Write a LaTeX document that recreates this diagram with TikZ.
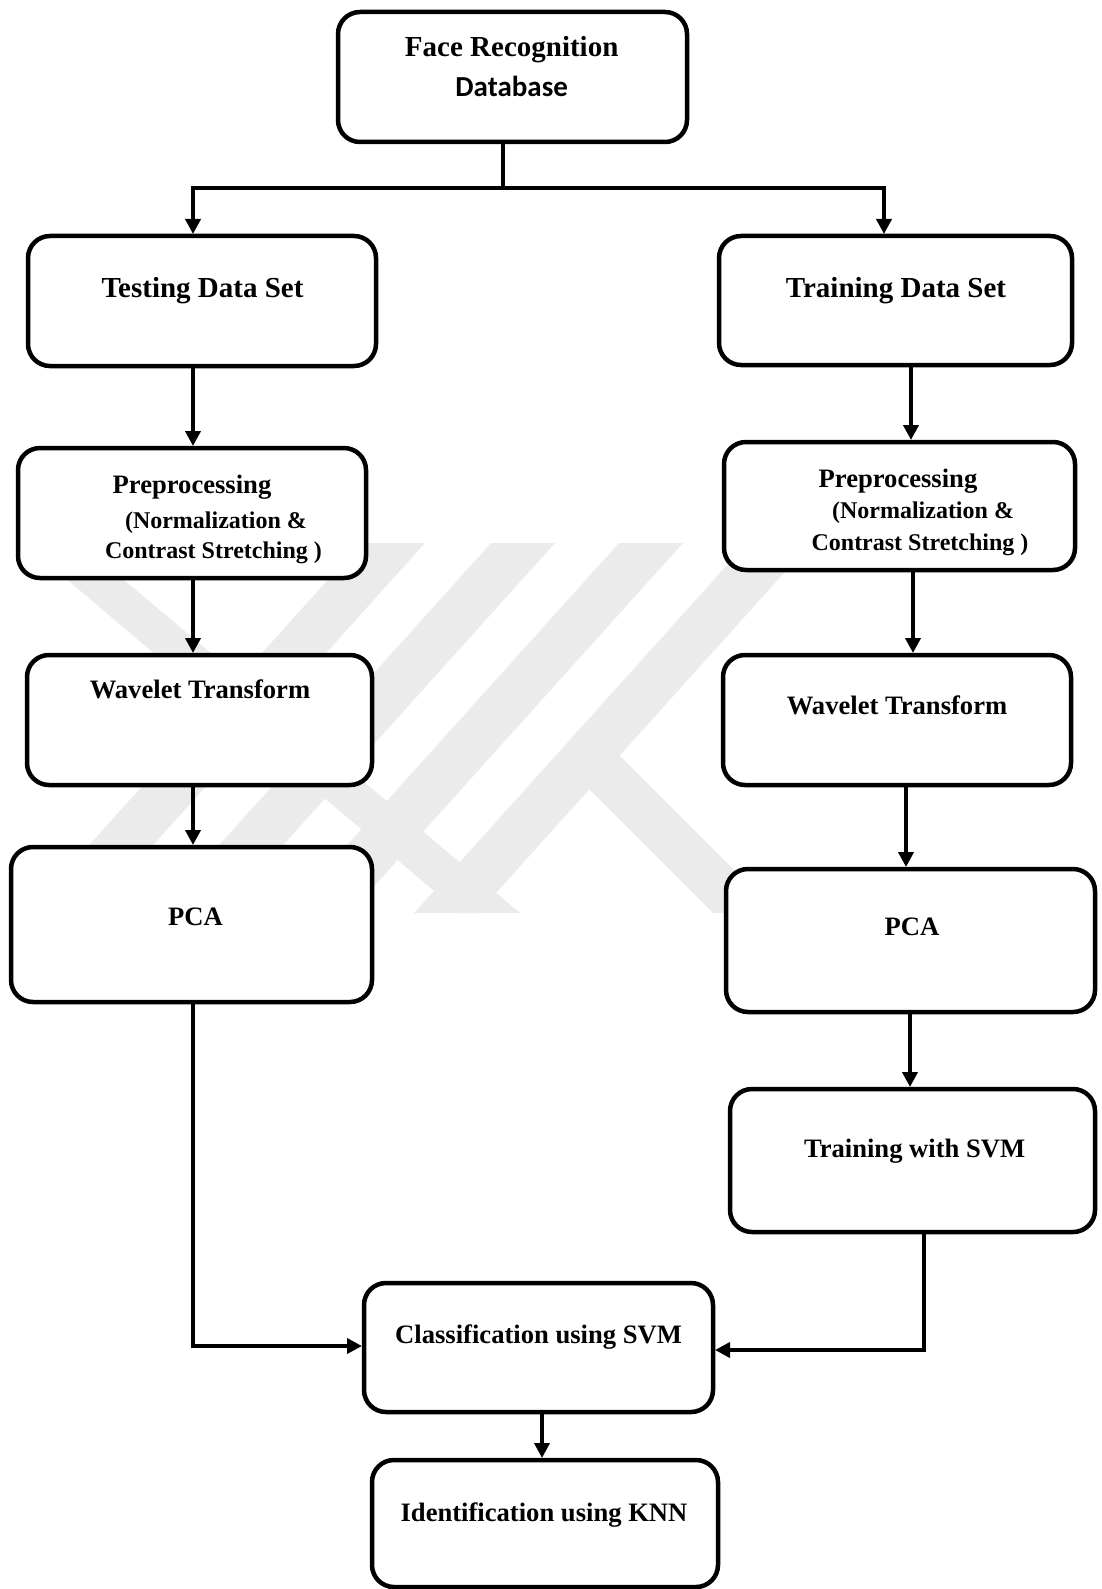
\documentclass[tikz,border=0pt]{standalone}
\usepackage{fontspec}
\setmainfont{Liberation Serif}
\newfontfamily\calibrifont{Carlito}
\usetikzlibrary{arrows.meta}
\begin{document}
\begin{tikzpicture}[x=1pt,y=-1pt,
  box/.style={draw, line width=4.5pt, rounded corners=22pt, fill=white, inner sep=0pt, outer sep=0pt},
  conn/.style={line width=4pt},
  arr/.style={line width=4pt, -{Triangle[length=15pt,width=15pt]}, shorten >=2pt},
  lbl/.style={anchor=base, inner sep=0pt},
  fA/.style={font=\bfseries\fontsize{29}{34}\selectfont},
  fB/.style={font=\bfseries\fontsize{26.6}{32}\selectfont},
  fC/.style={font=\bfseries\fontsize{24}{29}\selectfont},
  fD/.style={font=\calibrifont\bfseries\fontsize{29}{34}\selectfont},
  wm/.style={fill=black!8, draw=none}]
\useasboundingbox (0,0) rectangle (1101,1589);
% watermark
\foreach \c in {60,190,318,446}{
  \fill[wm] ({\c-32},913) -- ({\c+32},913) -- ({\c+365},543) -- ({\c+301},543) -- cycle;
}
\fill[wm] (24,543) -- (80,543) -- (520,913) -- (460,913) -- cycle;
\fill[wm] (570,770) -- (602,738) -- (777,913) -- (713,913) -- cycle;
% boxes
\node[box, minimum width=349pt, minimum height=130pt] (top) at (512.5,77) {};
\node[box, minimum width=348pt, minimum height=130pt] (test) at (202,301) {};
\node[box, minimum width=353pt, minimum height=129pt] (train) at (895.5,300.5) {};
\node[box, minimum width=348pt, minimum height=130pt] (prepL) at (192,513) {};
\node[box, minimum width=351pt, minimum height=128pt] (prepR) at (899.5,506) {};
\node[box, minimum width=345pt, minimum height=130pt] (wavL) at (199.5,720) {};
\node[box, minimum width=348pt, minimum height=130pt] (wavR) at (897,720) {};
\node[box, minimum width=361pt, minimum height=155pt] (pcaL) at (191.5,924.5) {};
\node[box, minimum width=369pt, minimum height=143pt] (pcaR) at (910.5,940.5) {};
\node[box, minimum width=365pt, minimum height=143pt] (svmT) at (912.5,1160.5) {};
\node[box, minimum width=349pt, minimum height=129pt] (cls) at (538.5,1347.5) {};
\node[box, minimum width=346pt, minimum height=127pt] (knn) at (545,1523.5) {};
% labels
\node[lbl,fA] (tFace) at (511.7,57) {Face Recognition};
\node[lbl,fD] (tDb) at (511.7,97) {Database};
\node[lbl,fA] (tTest) at (202.5,298) {Testing Data Set};
\node[lbl,fA] (tTrain) at (896,298) {Training Data Set};
\node[lbl,fB] (tPrepL) at (192,493) {Preprocessing};
\node[lbl,fC] (tNormL) at (216,528) {(Normalization \&};
\node[lbl,fC] (tContL) at (213.5,558) {Contrast Stretching )};
\node[lbl,fB] (tPrepR) at (898,487) {Preprocessing};
\node[lbl,fC] (tNormR) at (923,518) {(Normalization \&};
\node[lbl,fC] (tContR) at (920,550) {Contrast Stretching )};
\node[lbl,fB] (tWavL) at (200,698) {Wavelet Transform};
\node[lbl,fB] (tWavR) at (897,714) {Wavelet Transform};
\node[lbl,fB] (tPcaL) at (195.5,925) {PCA};
\node[lbl,fB] (tPcaR) at (912,935) {PCA};
\node[lbl,fB] (tSvm) at (914.6,1157) {Training with SVM};
\node[lbl,fB] (tCls) at (538.6,1343) {Classification using SVM};
\node[lbl,fB] (tKnn) at (544,1521) {Identification using KNN};
% connector helpers
\coordinate (hub) at (503,188);
\coordinate (jl) at (193,188);
\coordinate (jr) at (884,188);
\coordinate (xl) at (193,0);
\coordinate (xr1) at (911,0);
\coordinate (xr2) at (913,0);
\coordinate (xr3) at (906,0);
\coordinate (xr4) at (910,0);
\coordinate (bl) at (193,1346);
\coordinate (br) at (924,1350);
\coordinate (xc) at (542,0);
% connectors
\draw[conn] (top.south -| hub) -- (hub);
\draw[arr] (hub) -- (jl) -- (test.north -| jl);
\draw[arr] (hub) -- (jr) -- (train.north -| jr);
\draw[arr] (test.south -| xl) -- (prepL.north -| xl);
\draw[arr] (prepL.south -| xl) -- (wavL.north -| xl);
\draw[arr] (wavL.south -| xl) -- (pcaL.north -| xl);
\draw[arr] (pcaL.south -| bl) -- (bl) -- (cls.west |- bl);
\draw[arr] (train.south -| xr1) -- (prepR.north -| xr1);
\draw[arr] (prepR.south -| xr2) -- (wavR.north -| xr2);
\draw[arr] (wavR.south -| xr3) -- (pcaR.north -| xr3);
\draw[arr] (pcaR.south -| xr4) -- (svmT.north -| xr4);
\draw[arr] (svmT.south -| br) -- (br) -- (cls.east |- br);
\draw[arr] (cls.south -| xc) -- (knn.north -| xc);
\end{tikzpicture}
\end{document}
